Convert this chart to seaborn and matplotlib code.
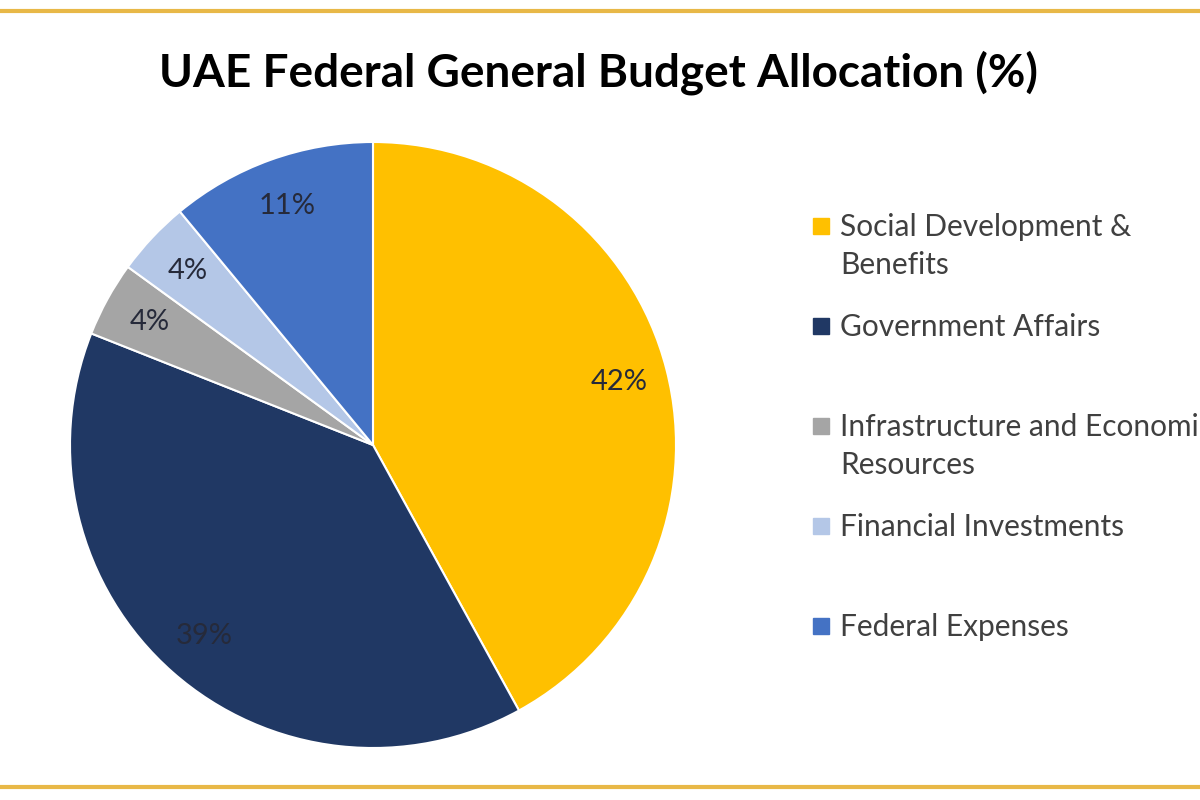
import matplotlib
matplotlib.use('Agg')
import matplotlib.pyplot as plt
from matplotlib.lines import Line2D
from matplotlib.patches import Rectangle
import seaborn as sns

# data
categories = ['Social Development &\nBenefits', 'Government Affairs',
              'Infrastructure and Economic\nResources', 'Financial Investments',
              'Federal Expenses']
shares = [42, 39, 4, 4, 11]
colors = ['#FFC000', '#203864', '#A5A5A5', '#B4C7E7', '#4472C4']
title = 'UAE Federal General Budget Allocation (%)'

sns.set_theme(style='white')
plt.rcParams['font.family'] = ['Lato', 'DejaVu Sans']
palette = sns.color_palette(colors)

fig = plt.figure(figsize=(12, 8), dpi=100)
fig.patch.set_facecolor('white')

# gold rules top and bottom
gold = '#E8B847'
fig.add_artist(Line2D([0, 1], [1 - 11 / 800, 1 - 11 / 800], transform=fig.transFigure,
                      color=gold, lw=3))
fig.add_artist(Line2D([0, 1], [1 - 787 / 800, 1 - 787 / 800], transform=fig.transFigure,
                      color=gold, lw=3))

fig.text(0.499, 1 - 73 / 800, title, ha='center', va='center',
         fontsize=33, fontweight='bold', color='black')

# pie: centre (373, 445) px, radius 303 px
ax = fig.add_axes([(373 - 303) / 1200, (800 - 445 - 303) / 800, 606 / 1200, 606 / 800])
wedges, texts, autotexts = ax.pie(shares, colors=palette, startangle=90, counterclock=False,
                                  radius=1, autopct='%d%%', pctdistance=0.84,
                                  wedgeprops=dict(edgecolor='white', linewidth=1.5))
for t in autotexts:
    t.set_fontsize(21)
    t.set_color('#262a3a')
ax.set_xlim(-1, 1)
ax.set_ylim(-1, 1)
ax.set_aspect('equal')
ax.axis('off')

# legend, Excel style: each entry in a 100 px slot
for i, (lab, col) in enumerate(zip(categories, palette)):
    yc = 1 - (226 + i * 100) / 800
    fig.add_artist(Rectangle((813 / 1200, yc - 8 / 800), 16 / 1200, 16 / 800,
                             transform=fig.transFigure, color=col))
    fig.text(840 / 1200, yc + 13 / 800, lab, ha='left', va='top', fontsize=21.5,
             color='#404040', linespacing=1.45)

fig.savefig('out.png', dpi=100)
